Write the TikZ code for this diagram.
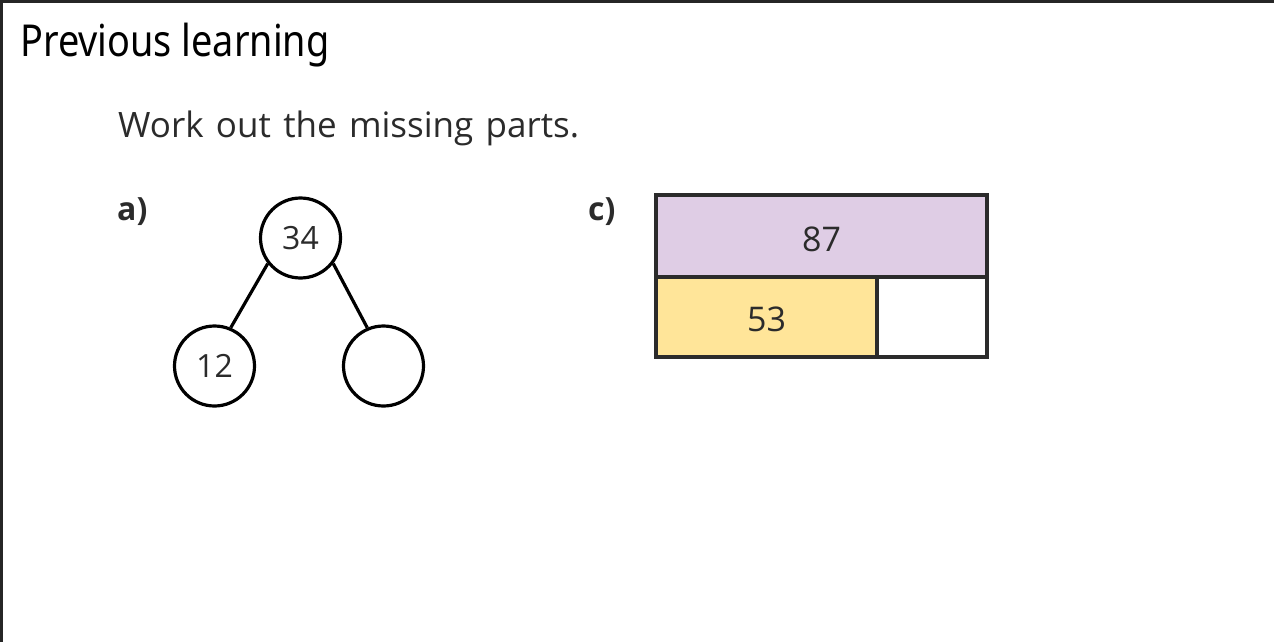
\documentclass[tikz,border=0pt]{standalone}
\usepackage{fontspec}
\setmainfont{Open Sans}
\newfontfamily\titlefont{Noto Sans}
\definecolor{ink}{HTML}{2B2B2B}
\definecolor{lilac}{HTML}{DFCDE5}
\definecolor{butter}{HTML}{FFE599}
\begin{document}
\begin{tikzpicture}[x=1pt,y=-1pt,
  part/.style={circle,draw=black,line width=3.2pt,minimum size=80pt,inner sep=0pt,
    font=\fontsize{32}{38}\selectfont,text=ink},
  link/.style={draw=black,line width=3.2pt},
  cell/.style={draw=ink,line width=3.2pt},
  lbl/.style={font=\fontsize{34}{40}\selectfont,text=ink},
  qlabel/.style={font=\bfseries\fontsize{32}{38}\selectfont,text=ink,anchor=base west,inner sep=0pt}]
\useasboundingbox (0,0) rectangle (1274,642);
\fill[white] (0,0) rectangle (1274,642);
\draw[line width=3pt,black!85] (1.5,642) -- (1.5,1.5) -- (1274,1.5);
\node[anchor=base west,inner sep=0pt,font=\titlefont\fontsize{44}{50}\selectfont] (title) at (20,57) {\scalebox{0.86}[1]{Previous learning}};
\node[anchor=base west,inner sep=0pt,font=\fontsize{35}{40}\selectfont,text=ink] (instr) at (118,137) {\spaceskip=12.3pt plus 2pt Work out the missing parts.};
\node[qlabel] (qa) at (117,220) {a)};
\node[qlabel] (qc) at (588,220) {c)};
% part-whole
\node[part] (whole) at (300.5,238) {34};
\node[part] (left) at (214.5,366) {12};
\node[part] (right) at (383.5,366) {};
\draw[link] (whole.218) -- (left.67);
\draw[link] (whole.322) -- (right.113);
% bar model
\fill[lilac] (656,195) rectangle (987,277);
\fill[butter] (656,277) rectangle (877,357);
\draw[cell] (656,195) rectangle (987,357);
\draw[cell] (656,277) -- (987,277);
\draw[cell] (877,277) -- (877,357);
\node[lbl] (total) at (821.5,239) {87};
\node[lbl] (known) at (766.5,319) {53};
\end{tikzpicture}
\end{document}
